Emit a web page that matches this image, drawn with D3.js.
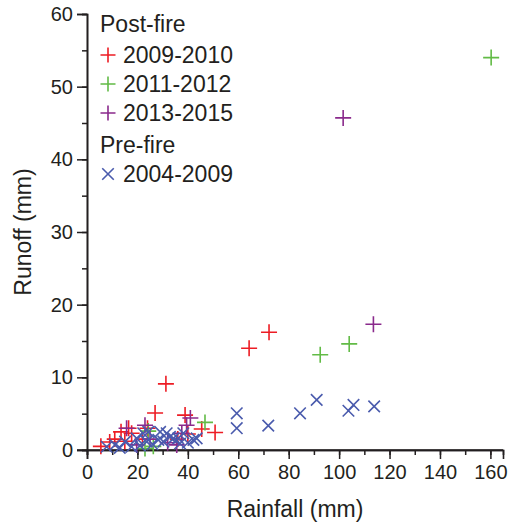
<!DOCTYPE html>
<html><head><meta charset="utf-8">
<script src="https://cdn.jsdelivr.net/npm/d3@7"></script>
<style>body{margin:0;background:#fff}svg{display:block}text{font-family:"Liberation Sans",Arial,sans-serif;fill:#231f20}</style>
</head><body>
<script>
// Post-fire 2009-2010
const red09Rain   = [5.5, 9, 11, 13.5, 15, 16.5, 17.7, 22, 24, 27, 31.3, 36, 38.9, 40, 45.5, 50.8, 64.3, 72.2];
const red09Runoff = [0.5, 1.1, 1.5, 2.5, 1.2, 3.0, 2.3, 1.5, 3.0, 5.1, 9.1, 1.5, 4.8, 2.2, 2.9, 2.4, 14.0, 16.2];
// Post-fire 2011-2012
const green11Rain   = [23, 24.3, 26.3, 46.8, 92.5, 104, 160.3];
const green11Runoff = [0.2, 2.6, 0.5, 3.8, 13.1, 14.6, 54.0];
// Post-fire 2013-2015
const purple13Rain   = [15.7, 19.7, 23, 25, 32, 35.6, 37.6, 39.5, 41, 101.6, 113.6];
const purple13Runoff = [3.0, 0.7, 3.4, 1.5, 1.0, 0.7, 2.3, 3.4, 4.4, 45.7, 17.3];
// Pre-fire 2004-2009
const blue04Rain   = [7.8, 11.1, 13, 15.1, 17.7, 19.7, 21, 22.3, 23.7, 24.3, 26, 28.3, 29, 30.3, 31.6, 32.9, 34.3, 36.2, 36.9, 38.2, 40, 42.2, 43.5, 59.4, 59.4, 71.9, 84.5, 91.1, 103.7, 105.7, 113.9];
const blue04Runoff = [0.45, 0.7, 0.3, 1.15, 0.45, 1.6, 0.6, 2.3, 1.15, 2.5, 0.8, 1.4, 2.5, 1.15, 2.3, 1.8, 1.6, 1.6, 0.9, 2.3, 1.0, 1.4, 1.6, 5.05, 3.0, 3.35, 5.05, 6.9, 5.4, 6.2, 6.0];

const xTicks = [0, 20, 40, 60, 80, 100, 120, 140, 160];
const yTicks = [0, 10, 20, 30, 40, 50, 60];

const series = [
  {name: "2009-2010", rain: red09Rain, runoff: red09Runoff, color: "#ed1c24", shape: "plus"},
  {name: "2011-2012", rain: green11Rain, runoff: green11Runoff, color: "#62bb46", shape: "plus"},
  {name: "2013-2015", rain: purple13Rain, runoff: purple13Runoff, color: "#8a2a8c", shape: "plus"},
  {name: "2004-2009", rain: blue04Rain, runoff: blue04Runoff, color: "#4a5bad", shape: "cross"}
];

const W = 508, H = 524;
const svg = d3.select("body").append("svg").attr("width", W).attr("height", H);
const x = d3.scaleLinear().domain([0, 165]).range([87, 503]);
const y = d3.scaleLinear().domain([0, 60]).range([450, 14]);
const ink = "#231f20";

function markerPath(shape, s) {
  if (shape === "plus") return `M${-s},0H${s}M0,${-s}V${s}`;
  const d = s * 0.72;
  return `M${-d},${-d}L${d},${d}M${-d},${d}L${d},${-d}`;
}

// axes
const xAxis = svg.append("g").attr("transform", "translate(0,450)");
xAxis.call(d3.axisBottom(x).tickValues(d3.range(0, 161, 10)).tickSize(5).tickFormat(""));
xAxis.append("g").call(d3.axisBottom(x).tickValues(xTicks).tickSize(9).tickPadding(6).tickFormat(d3.format("d")));
const yAxis = svg.append("g").attr("transform", "translate(87,0)");
yAxis.call(d3.axisLeft(y).tickValues(d3.range(0, 61, 5)).tickSize(5).tickFormat(""));
yAxis.append("g").call(d3.axisLeft(y).tickValues(yTicks).tickSize(10).tickPadding(4).tickFormat(d3.format("d")));
svg.selectAll(".domain").attr("stroke", ink).attr("stroke-width", 1.6);
svg.selectAll(".tick line").attr("stroke", ink).attr("stroke-width", 1.5);
svg.selectAll(".tick text").style("font-size", "20px").attr("fill", ink);
// extend x axis line to the left tick end
svg.append("line").attr("x1", 77).attr("x2", 503).attr("y1", 450).attr("y2", 450).attr("stroke", ink).attr("stroke-width", 1.6);

// axis titles
svg.append("text").attr("x", 295).attr("y", 517).attr("text-anchor", "middle").style("font-size", "23px").text("Rainfall (mm)");
svg.append("text").attr("transform", "translate(31,232) rotate(-90)").attr("text-anchor", "middle").style("font-size", "23px").text("Runoff (mm)");

// data
const plot = svg.append("g");
series.forEach(s => {
  plot.append("g").selectAll("path").data(s.rain.map((r, i) => [r, s.runoff[i]])).join("path")
    .attr("transform", d => `translate(${x(d[0])},${y(d[1])})`)
    .attr("d", markerPath(s.shape, 8))
    .attr("fill", "none").attr("stroke", s.color).attr("stroke-width", 1.6);
});

// legend
const lg = svg.append("g");
lg.append("text").attr("x", 100).attr("y", 32).style("font-size", "23px").text("Post-fire");
const rows = [{s: series[0], y: 55}, {s: series[1], y: 84}, {s: series[2], y: 113}];
rows.forEach(r => {
  lg.append("path").attr("transform", `translate(108,${r.y})`).attr("d", markerPath(r.s.shape, 7.5))
    .attr("fill", "none").attr("stroke", r.s.color).attr("stroke-width", 1.6);
  lg.append("text").attr("x", 123).attr("y", r.y + 8).style("font-size", "23px").text(r.s.name);
});
lg.append("text").attr("x", 100).attr("y", 153).style("font-size", "23px").text("Pre-fire");
lg.append("path").attr("transform", `translate(108,174)`).attr("d", markerPath("cross", 8))
  .attr("fill", "none").attr("stroke", series[3].color).attr("stroke-width", 1.6);
lg.append("text").attr("x", 123).attr("y", 182).style("font-size", "23px").text(series[3].name);
</script>
</body></html>
